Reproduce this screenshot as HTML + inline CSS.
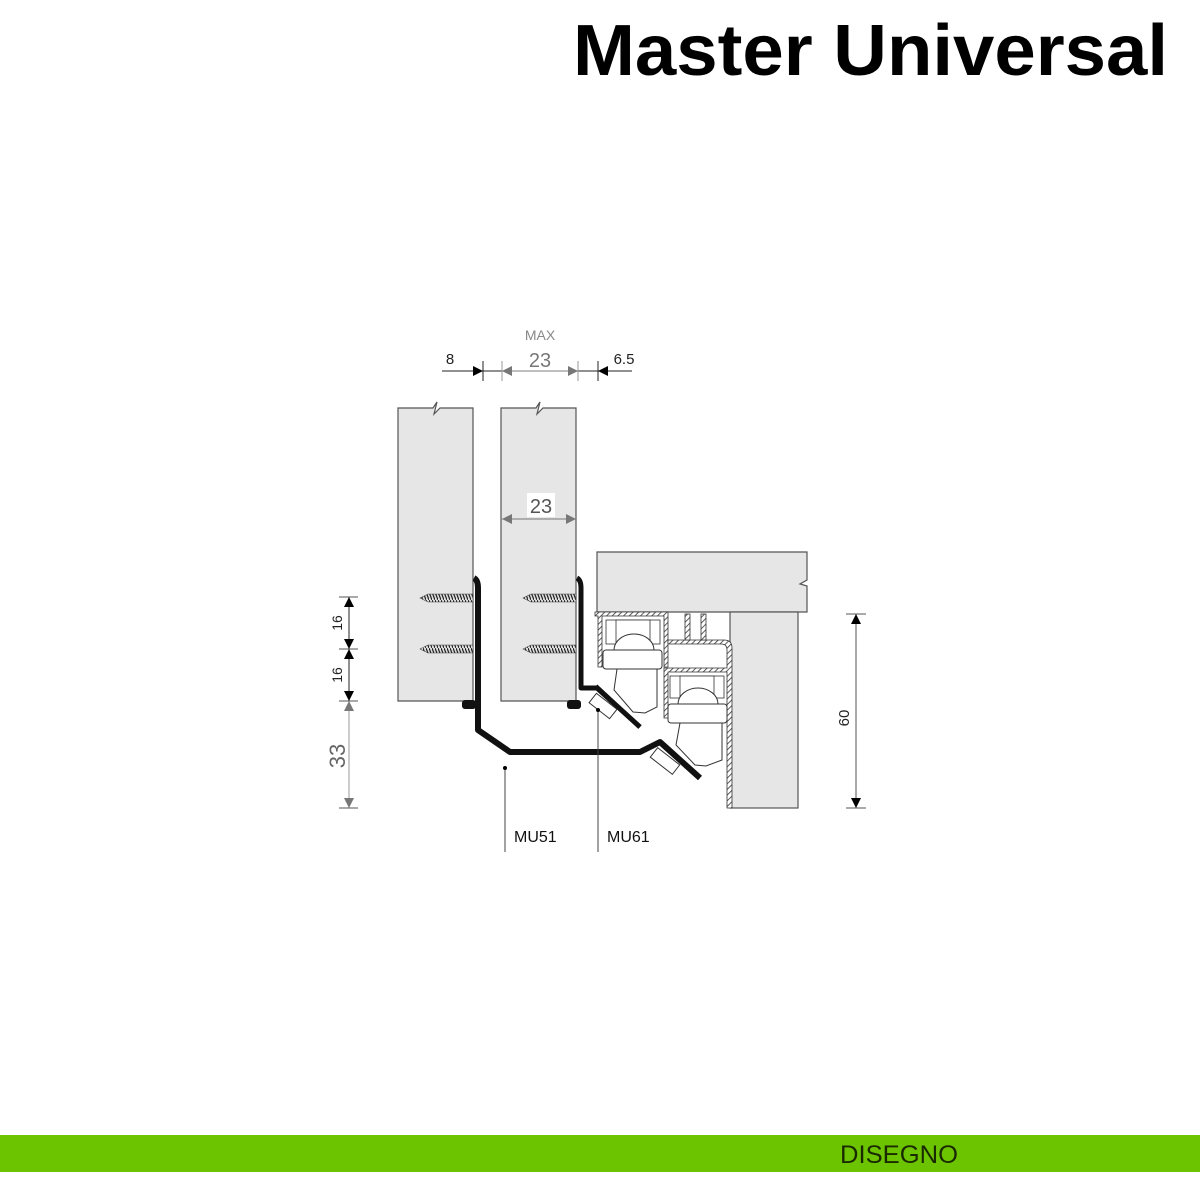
<!DOCTYPE html>
<html><head><meta charset="utf-8"><style>
html,body{margin:0;padding:0;background:#fff;width:1200px;height:1200px;overflow:hidden}
svg{display:block}
</style></head><body>
<svg width="1200" height="1200" viewBox="0 0 1200 1200" xmlns="http://www.w3.org/2000/svg">
<defs>
<pattern id="h" width="4" height="4" patternUnits="userSpaceOnUse" patternTransform="rotate(45)">
<rect width="4" height="4" fill="#fff"/><line x1="0" y1="0" x2="0" y2="4" stroke="#333" stroke-width="1.6"/>
</pattern>
<pattern id="scr" width="3" height="8" patternUnits="userSpaceOnUse">
<rect width="3" height="8" fill="#ddd"/><line x1="0" y1="0" x2="3" y2="8" stroke="#222" stroke-width="1.2"/>
</pattern>
</defs>
<text x="1168" y="75" text-anchor="end" font-family="Liberation Sans, sans-serif" font-weight="bold" font-size="72" textLength="595" lengthAdjust="spacingAndGlyphs" fill="#000">Master Universal</text>

<!-- top dims -->
<g font-family="Liberation Sans, sans-serif">
<text x="540" y="340" text-anchor="middle" font-size="14" fill="#888">MAX</text>
<text x="540" y="367" text-anchor="middle" font-size="20" fill="#777">23</text>
<text x="450" y="364" text-anchor="middle" font-size="15" fill="#222">8</text>
<text x="624" y="364" text-anchor="middle" font-size="15" fill="#222">6.5</text>
</g>
<line x1="442" y1="371" x2="632" y2="371" stroke="#222" stroke-width="1"/>
<line x1="502" y1="371" x2="578" y2="371" stroke="#999" stroke-width="1.2"/>
<line x1="483" y1="361" x2="483" y2="381" stroke="#222"/>
<line x1="502" y1="361" x2="502" y2="381" stroke="#999"/>
<line x1="578" y1="361" x2="578" y2="381" stroke="#999"/>
<line x1="598" y1="361" x2="598" y2="381" stroke="#222"/>
<polygon points="483,371 473,366 473,376" fill="#000"/>
<polygon points="598,371 608,366 608,376" fill="#000"/>
<polygon points="502,371 512,366 512,376" fill="#777"/>
<polygon points="578,371 568,366 568,376" fill="#777"/>

<!-- panels -->
<path d="M398,408 L433,408 L437,402 L434,414 L440,408 L473,408 L473,701 L398,701 Z" fill="#e6e6e6" stroke="#555" stroke-width="1.2"/>
<path d="M501,408 L536,408 L540,402 L537,414 L543,408 L576,408 L576,701 L501,701 Z" fill="#e6e6e6" stroke="#555" stroke-width="1.2"/>
<rect x="527" y="493" width="28" height="24" fill="#fff"/>
<text x="541" y="513" text-anchor="middle" font-family="Liberation Sans, sans-serif" font-size="20" fill="#555">23</text>
<line x1="502" y1="519" x2="576" y2="519" stroke="#777"/>
<polygon points="502,519 512,514 512,524" fill="#777"/>
<polygon points="576,519 566,514 566,524" fill="#777"/>

<!-- screws -->
<g>
<polygon points="420,598 428,594 473,594 473,602 428,602" fill="url(#scr)" stroke="#444" stroke-width="0.6"/>
<polygon points="420,649 428,645 473,645 473,653 428,653" fill="url(#scr)" stroke="#444" stroke-width="0.6"/>
<polygon points="523,598 531,594 576,594 576,602 531,602" fill="url(#scr)" stroke="#444" stroke-width="0.6"/>
<polygon points="523,649 531,645 576,645 576,653 531,653" fill="url(#scr)" stroke="#444" stroke-width="0.6"/>
</g>

<!-- top board -->
<path d="M597,552 L807,552 L807,580 L800,584 L807,586 L807,612 L597,612 Z" fill="#e6e6e6" stroke="#555" stroke-width="1.2"/>
<rect x="730" y="612" width="68" height="196" fill="#e6e6e6" stroke="#555" stroke-width="1.2"/>

<!-- brackets -->
<path d="M474,578 Q478,580 478,588 L478,730 L510,752 L640,752 L660,742 L700,778" fill="none" stroke="#111" stroke-width="6" stroke-linejoin="round"/>
<rect x="462" y="700" width="14" height="9" rx="3" fill="#111"/>
<path d="M577,578 Q581,580 581,588 L581,688 L597,688 L640,727" fill="none" stroke="#111" stroke-width="5" stroke-linejoin="round"/>
<rect x="567" y="700" width="14" height="9" rx="3" fill="#111"/>

<!-- mechanism upper -->
<path d="M595,612 L668,612 L668,667 L664,667 L664,616 L602,616 L602,667 L598,667 L598,616 L595,616 Z" fill="url(#h)" stroke="#333" stroke-width="0.8"/>
<rect x="606" y="620" width="54" height="24" fill="#fff" stroke="#333" stroke-width="0.8"/>
<rect x="616" y="620" width="34" height="30" fill="#fff" stroke="#333" stroke-width="0.8"/>
<path d="M614,650 A20,16 0 0 1 654,650" fill="#fff" stroke="#333"/>
<rect x="603" y="650" width="59" height="19" rx="3" fill="#fff" stroke="#333"/>
<polygon points="617,669 657,669 657,707 645,713 633,712 614,690" fill="#fff" stroke="#333"/>
<!-- upper angled plate -->
<line x1="596" y1="686" x2="640" y2="727" stroke="#111" stroke-width="4"/>
<rect x="590" y="700" width="26" height="12" transform="rotate(38 603 706)" fill="#fff" stroke="#333"/>

<!-- mechanism lower profile -->
<path d="M668,640 L724,640 Q732,640 732,648 L732,808 L727,808 L727,672 L668,672 L668,718 L664,718 L664,668 L727,668 L727,650 Q727,644 721,644 L668,644 Z" fill="url(#h)" stroke="#333" stroke-width="0.8"/>
<rect x="685" y="614" width="5" height="26" fill="url(#h)" stroke="#333" stroke-width="0.8"/>
<rect x="701" y="614" width="5" height="26" fill="url(#h)" stroke="#333" stroke-width="0.8"/>
<rect x="670" y="676" width="54" height="22" fill="#fff" stroke="#333" stroke-width="0.8"/>
<rect x="680" y="676" width="34" height="28" fill="#fff" stroke="#333" stroke-width="0.8"/>
<path d="M678,704 A20,16 0 0 1 718,704" fill="#fff" stroke="#333"/>
<rect x="668" y="704" width="59" height="19" rx="3" fill="#fff" stroke="#333"/>
<polygon points="680,723 722,723 722,760 706,766 695,765 676,745" fill="#fff" stroke="#333"/>
<rect x="651" y="755" width="28" height="12" transform="rotate(38 665 761)" fill="#fff" stroke="#333"/>

<!-- left dims -->
<line x1="349" y1="597" x2="349" y2="701" stroke="#222"/>
<line x1="349" y1="701" x2="349" y2="808" stroke="#999"/>
<g stroke="#555"><line x1="339" y1="597" x2="358" y2="597"/><line x1="339" y1="649" x2="358" y2="649"/><line x1="339" y1="701" x2="358" y2="701"/><line x1="339" y1="808" x2="358" y2="808"/></g>
<polygon points="349,597 344,607 354,607" fill="#000"/>
<polygon points="349,649 344,639 354,639" fill="#000"/>
<polygon points="349,649 344,659 354,659" fill="#000"/>
<polygon points="349,701 344,691 354,691" fill="#000"/>
<polygon points="349,701 344,711 354,711" fill="#777"/>
<polygon points="349,808 344,798 354,798" fill="#777"/>
<g font-family="Liberation Sans, sans-serif">
<text transform="translate(342,623) rotate(-90)" text-anchor="middle" font-size="14" fill="#222">16</text>
<text transform="translate(342,675) rotate(-90)" text-anchor="middle" font-size="14" fill="#222">16</text>
<text transform="translate(345,756) rotate(-90)" text-anchor="middle" font-size="22" fill="#666">33</text>
</g>

<!-- right dim -->
<line x1="856" y1="614" x2="856" y2="808" stroke="#555"/>
<line x1="846" y1="614" x2="866" y2="614" stroke="#555"/>
<line x1="846" y1="808" x2="866" y2="808" stroke="#555"/>
<polygon points="856,614 851,624 861,624" fill="#000"/>
<polygon points="856,808 851,798 861,798" fill="#000"/>
<text transform="translate(849,718) rotate(-90)" text-anchor="middle" font-family="Liberation Sans, sans-serif" font-size="15" fill="#222">60</text>

<!-- leaders -->
<line x1="505" y1="768" x2="505" y2="852" stroke="#444"/>
<circle cx="505" cy="768" r="2" fill="#000"/>
<line x1="598" y1="710" x2="598" y2="852" stroke="#444"/>
<circle cx="598" cy="710" r="2" fill="#000"/>
<text x="514" y="842" font-family="Liberation Sans, sans-serif" font-size="16" fill="#111">MU51</text>
<text x="607" y="842" font-family="Liberation Sans, sans-serif" font-size="16" fill="#111">MU61</text>

<!-- footer -->
<rect x="0" y="1135" width="1200" height="37" fill="#6cc400"/>
<text x="840" y="1163" font-family="Liberation Sans, sans-serif" font-size="25" fill="#1a2a00" textLength="118" lengthAdjust="spacingAndGlyphs">DISEGNO</text>
</svg>
</body></html>
